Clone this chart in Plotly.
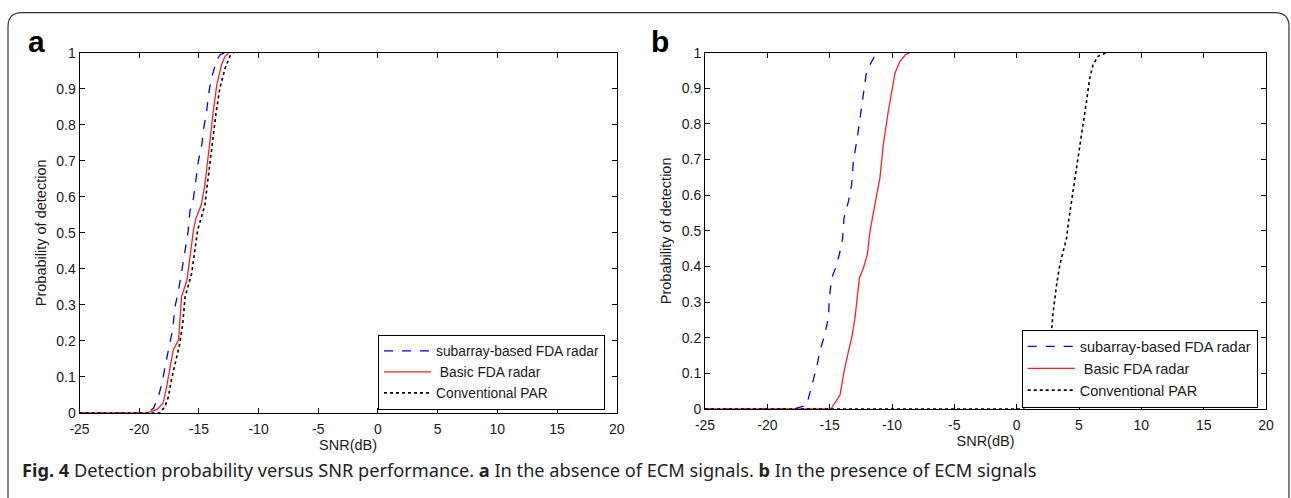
import plotly.graph_objects as go

# ---------------- data ----------------
X_TICKS = [-25, -20, -15, -10, -5, 0, 5, 10, 15, 20]
X_TICK_LABELS = ["-25", "-20", "-15", "-10", "-5", "0", "5", "10", "15", "20"]
Y_TICKS = [0, 0.1, 0.2, 0.3, 0.4, 0.5, 0.6, 0.7, 0.8, 0.9, 1]
Y_TICK_LABELS = ["0", "0.1", "0.2", "0.3", "0.4", "0.5", "0.6", "0.7", "0.8", "0.9", "1"]

SERIES_NAMES = ["subarray-based FDA radar", "\u00a0Basic FDA radar", "Conventional PAR"]

# panel a: absence of ECM signals
A_SNR_SUB = [-25, -19.4, -18.8, -18.4, -18.1, -17.85, -17.5, -17.2, -17.0, -16.7, -16.45, -16.15,
             -15.9, -15.75, -15.45, -15.2, -15.05, -14.75, -14.6, -14.35, -14.2, -13.95, -13.5,
             -13.2, -12.8]
A_PD_SUB = [0, 0, 0.013, 0.045, 0.082, 0.128, 0.184, 0.23, 0.295, 0.341, 0.397, 0.452,
            0.505, 0.56, 0.597, 0.652, 0.698, 0.745, 0.79, 0.837, 0.883, 0.929, 0.98,
            0.995, 1]

A_SNR_BASIC = [-25, -19.4, -18.5, -18.0, -17.7, -17.4, -17.15, -16.7, -16.6, -16.45, -16.0,
               -15.75, -15.45, -15.25, -14.8, -14.5, -14.3, -14.05, -13.8, -13.5, -13.1, -12.8,
               -12.5]
A_PD_BASIC = [0, 0, 0.01, 0.027, 0.073, 0.128, 0.175, 0.203, 0.258, 0.323, 0.369,
              0.434, 0.508, 0.54, 0.578, 0.633, 0.698, 0.762, 0.836, 0.91, 0.967, 0.99,
              1]

A_SNR_CONV = [-25, -18.3, -17.85, -17.55, -17.3, -17.0, -16.6, -16.35, -16.15, -15.6, -15.35,
              -15.1, -14.5, -14.3, -14.05, -13.85, -13.55, -13.25, -12.8, -12.4, -12.1]
A_PD_CONV = [0, 0, 0.017, 0.045, 0.092, 0.138, 0.193, 0.249, 0.323, 0.388, 0.443,
             0.508, 0.577, 0.633, 0.698, 0.762, 0.836, 0.901, 0.957, 0.99, 1]

# panel b: presence of ECM signals
B_SNR_SUB = [-25, -17.9, -16.85, -16.3, -16.0, -15.8, -15.4, -15.1, -15.03, -14.84, -14.44,
             -14.17, -13.96, -13.85, -13.5, -13.24, -13.1, -12.79, -12.57, -12.3, -12.08,
             -11.77, -11.4, -11.0]
B_PD_SUB = [0, 0, 0.01, 0.086, 0.124, 0.161, 0.208, 0.255, 0.311, 0.367, 0.404,
            0.442, 0.479, 0.536, 0.582, 0.629, 0.695, 0.760, 0.817, 0.882, 0.938,
            0.966, 0.99, 1]

B_SNR_BASIC = [-25, -14.9, -14.17, -13.85, -13.5, -13.24, -12.97, -12.79, -12.62, -12.3, -11.98,
               -11.77, -11.45, -11.23, -10.97, -10.7, -10.3, -9.95, -9.76, -9.36, -8.9, -8.56]
B_PD_BASIC = [0, 0, 0.039, 0.105, 0.161, 0.199, 0.255, 0.311, 0.367, 0.395, 0.433,
              0.498, 0.564, 0.601, 0.648, 0.742, 0.835, 0.91, 0.943, 0.976, 0.995, 1]

B_SNR_CONV = [-25, 0.2, 1.0, 1.5, 2.0, 2.5, 2.8, 2.93, 3.2, 3.46, 3.73, 4.0, 4.2, 4.4, 4.66,
              4.93, 5.2, 5.38, 5.6, 5.86, 6.13, 6.53, 7.2]
B_PD_CONV = [0, 0, 0.008, 0.02, 0.06, 0.14, 0.222, 0.273, 0.348, 0.404, 0.442, 0.479, 0.536,
             0.582, 0.648, 0.704, 0.760, 0.807, 0.863, 0.929, 0.966, 0.99, 1]

CAPTION = ("<b>Fig. 4</b> Detection probability versus SNR performance. <b>a</b> In the absence "
           "of ECM signals. <b>b</b> In the presence of ECM signals")

# ---------------- figure ----------------
W, H = 1291, 498


def px(x):
    return x / W


def py(y):
    return 1 - y / H


STYLES = [
    dict(color="#0000ff", dash="dash", width=1.3),
    dict(color="#ff2020", dash="solid", width=1.3),
    dict(color="#000000", dash="dot", width=1.6),
]

fig = go.Figure()

panels = [
    ("x", "y", "legend", [(A_SNR_SUB, A_PD_SUB), (A_SNR_BASIC, A_PD_BASIC), (A_SNR_CONV, A_PD_CONV)]),
    ("x2", "y2", "legend2", [(B_SNR_SUB, B_PD_SUB), (B_SNR_BASIC, B_PD_BASIC), (B_SNR_CONV, B_PD_CONV)]),
]
for xa, ya, leg, series in panels:
    for name, style, (xs, ys) in zip(SERIES_NAMES, STYLES, series):
        fig.add_trace(go.Scatter(x=xs, y=ys, mode="lines", name=name, line=style,
                                 xaxis=xa, yaxis=ya, legend=leg, showlegend=True,
                                 hoverinfo="skip"))

FONT_FAMILY = "Liberation Sans, Arial, sans-serif"
TICK_FONT = dict(family=FONT_FAMILY, size=14, color="#1a1a1a")
TITLE_FONT = dict(family=FONT_FAMILY, size=14.5, color="#1a1a1a")
axis_common = dict(showline=True, linecolor="#000", linewidth=1, mirror="ticks",
                   ticks="inside", ticklen=5, tickcolor="#000", tickwidth=1,
                   showgrid=False, zeroline=False, tickfont=TICK_FONT, fixedrange=True,
                   automargin=False)
x_common = dict(range=[-25, 20], tickmode="array", tickvals=X_TICKS, ticktext=X_TICK_LABELS,
                ticklabelstandoff=3,
                title=dict(text="SNR(dB)", font=TITLE_FONT, standoff=2), **axis_common)
y_common = dict(range=[0, 1], tickmode="array", tickvals=Y_TICKS, ticktext=Y_TICK_LABELS,
                title=dict(text="Probability of detection", font=TITLE_FONT, standoff=6),
                **axis_common)
legend_common = dict(xanchor="left", yanchor="top", bgcolor="white", bordercolor="#000",
                     borderwidth=1, tracegroupgap=0, itemwidth=47)

fig.update_layout(
    width=W, height=H,
    margin=dict(l=0, r=0, t=0, b=0, pad=0),
    paper_bgcolor="white", plot_bgcolor="white",
    font=dict(family=FONT_FAMILY, color="#1a1a1a"),
    xaxis=dict(domain=[px(79.5), px(616.7)], anchor="y", **x_common),
    yaxis=dict(domain=[py(413), py(52.7)], anchor="x", **y_common),
    xaxis2=dict(domain=[px(705), px(1266)], anchor="y2", **x_common),
    yaxis2=dict(domain=[py(409), py(52.7)], anchor="x2", **y_common),
    legend=dict(x=px(378), y=py(334.5),
                font=dict(family=FONT_FAMILY, size=13.8, color="#1a1a1a"), **legend_common),
    legend2=dict(x=px(1021.7), y=py(329.5),
                 font=dict(family=FONT_FAMILY, size=14.5, color="#1a1a1a"), **legend_common),
    showlegend=True,
)

# outer rounded frame (open at the bottom)
r = 14
frame_path = (f"M {px(8)},{py(H + 2)} L {px(8)},{py(12.7 + r)} "
              f"Q {px(8)},{py(12.7)} {px(8 + r)},{py(12.7)} "
              f"L {px(1289 - r)},{py(12.7)} Q {px(1289)},{py(12.7)} {px(1289)},{py(12.7 + r)} "
              f"L {px(1289)},{py(H + 2)}")
fig.add_shape(type="path", path=frame_path, xref="paper", yref="paper",
              line=dict(color="#333333", width=1.2))

# panel letters
for letter, cx in (("a", 36), ("b", 660)):
    fig.add_annotation(text=f"<b>{letter}</b>", x=px(cx), y=py(42), xref="paper", yref="paper",
                       xanchor="center", yanchor="middle", showarrow=False,
                       font=dict(family=FONT_FAMILY, size=30, color="#000"))

# caption
fig.add_annotation(text=CAPTION, x=px(20), y=py(470), xref="paper", yref="paper",
                   xanchor="left", yanchor="middle", showarrow=False,
                   font=dict(family="Noto Sans, sans-serif", size=18.2, color="#222"))

fig.write_html(
    "out.html",
    config={"displayModeBar": False},
    post_script="document.documentElement.style.margin='0';document.body.style.margin='0';"
                "document.body.style.padding='0';document.body.style.overflow='hidden';",
)
